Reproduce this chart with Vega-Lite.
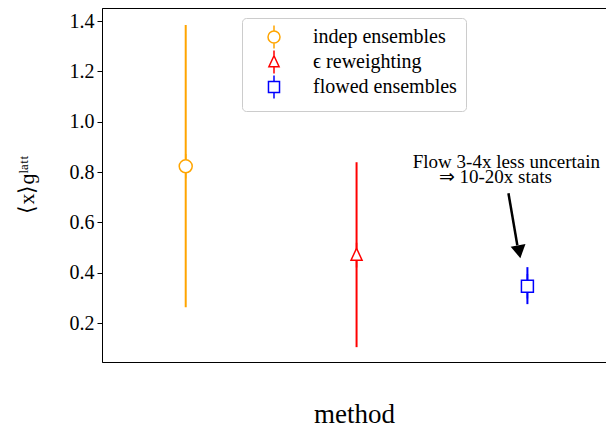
{
  "$schema": "https://vega.github.io/schema/vega-lite/v6.json",
  "width": 504,
  "height": 354,
  "autosize": {"type": "none"},
  "padding": {"left": 102, "top": 8, "right": 0, "bottom": 70},
  "background": "white",
  "datasets": {
    "results": [
      {"method": "indep ensembles", "x": 0, "mean": 0.823, "lo": 0.263, "hi": 1.384},
      {"method": "ϵ reweighting", "x": 1, "mean": 0.470, "lo": 0.104, "hi": 0.839},
      {"method": "flowed ensembles", "x": 2, "mean": 0.346, "lo": 0.275, "hi": 0.422}
    ],
    "arrow": [
      {"x1": 1.889, "y1": 0.716, "x2": 1.941, "y2": 0.509, "hx": 1.952, "hy": 0.483}
    ],
    "notes": [
      {"tx": 1.877, "ty": 0.8155, "label": "Flow 3-4x less uncertain"},
      {"tx": 1.812, "ty": 0.7559, "label": "⇒ 10-20x stats"}
    ]
  },
  "config": {
    "view": {"stroke": "black", "strokeWidth": 1},
    "font": "Liberation Serif",
    "axis": {
      "labelFont": "Liberation Serif",
      "titleFont": "Liberation Serif",
      "labelColor": "black",
      "titleColor": "black",
      "titleFontWeight": "normal",
      "grid": false
    },
    "legend": {
      "labelFont": "'Liberation Serif', serif",
      "labelFontSize": 20,
      "labelColor": "black",
      "labelLimit": 300,
      "orient": "none",
      "legendX": 140,
      "legendY": 10,
      "padding": 9,
      "symbolOffset": 13,
      "labelOffset": 29,
      "rowPadding": -6,
      "symbolSize": 144,
      "symbolStrokeWidth": 1.5,
      "symbolFillColor": "white",
      "strokeColor": "#cccccc",
      "fillColor": "white",
      "cornerRadius": 4
    }
  },
  "layer": [
    {
      "data": {"name": "results"},
      "mark": {"type": "rule", "strokeWidth": 2},
      "encoding": {
        "x": {
          "field": "x",
          "type": "quantitative",
          "scale": {"domain": [-0.49, 2.46], "nice": false, "zero": false},
          "axis": {
            "labels": false,
            "ticks": false,
            "domain": false,
            "grid": false,
            "title": "method",
            "titleFontSize": 27,
            "titleX": 252,
            "titleY": 60,
            "titleAlign": "center",
            "titleBaseline": "alphabetic"
          }
        },
        "y": {
          "field": "lo",
          "type": "quantitative",
          "scale": {"domain": [0.045, 1.452], "nice": false, "zero": false},
          "axis": {
            "values": [0.2, 0.4, 0.6, 0.8, 1.0, 1.2, 1.4],
            "format": ".1f",
            "labelFontSize": 20,
            "tickSize": 5,
            "tickColor": "black",
            "domainColor": "black",
            "labelPadding": 3,
            "title": "⟨x⟩ɡˡᵃᵗᵗ",
            "titleFontSize": 22,
            "titleAngle": -90,
            "titleX": -76,
            "titleY": 176,
            "titleAlign": "center",
            "titleBaseline": "middle"
          }
        },
        "y2": {"field": "hi"},
        "color": {
          "field": "method",
          "type": "nominal",
          "scale": {
            "domain": ["indep ensembles", "ϵ reweighting", "flowed ensembles"],
            "range": ["#FFA500", "#FF0000", "#0000FF"]
          },
          "legend": {"title": null}
        }
      }
    },
    {
      "data": {"name": "results"},
      "mark": {"type": "point", "filled": false, "fill": "white", "fillOpacity": 1, "opacity": 1, "strokeWidth": 1.5, "size": 169},
      "encoding": {
        "x": {"field": "x", "type": "quantitative"},
        "y": {"field": "mean", "type": "quantitative"},
        "color": {
          "field": "method",
          "type": "nominal",
          "legend": {"title": null}
        },
        "shape": {
          "field": "method",
          "type": "nominal",
          "legend": {"title": null},
          "scale": {
            "domain": ["indep ensembles", "ϵ reweighting", "flowed ensembles"],
            "range": [
              "M0,-1.9L0,-1M0,1L0,1.9M1,0A1,1,0,1,1,-1,0A1,1,0,1,1,1,0Z",
              "M0,-1.9L0,-1.05M0,0.8L0,1.9M0,-1.05L0.85,0.8L-0.85,0.8Z",
              "M0,-1.9L0,-0.92M0,0.92L0,1.9M-0.92,-0.92L0.92,-0.92L0.92,0.92L-0.92,0.92Z"
            ]
          }
        }
      }
    },
    {
      "data": {"name": "arrow"},
      "mark": {"type": "rule", "strokeWidth": 2.5, "color": "black"},
      "encoding": {
        "x": {"field": "x1", "type": "quantitative"},
        "y": {"field": "y1", "type": "quantitative"},
        "x2": {"field": "x2"},
        "y2": {"field": "y2"}
      }
    },
    {
      "data": {"name": "arrow"},
      "mark": {"type": "point", "shape": "triangle-down", "filled": true, "color": "black", "opacity": 1, "size": 225, "angle": -10},
      "encoding": {
        "x": {"field": "hx", "type": "quantitative"},
        "y": {"field": "hy", "type": "quantitative"}
      }
    },
    {
      "data": {"name": "notes"},
      "mark": {"type": "text", "font": "Liberation Serif", "fontSize": 19, "align": "center", "baseline": "alphabetic", "color": "black"},
      "encoding": {
        "x": {"field": "tx", "type": "quantitative"},
        "y": {"field": "ty", "type": "quantitative"},
        "text": {"field": "label"}
      }
    }
  ]
}
